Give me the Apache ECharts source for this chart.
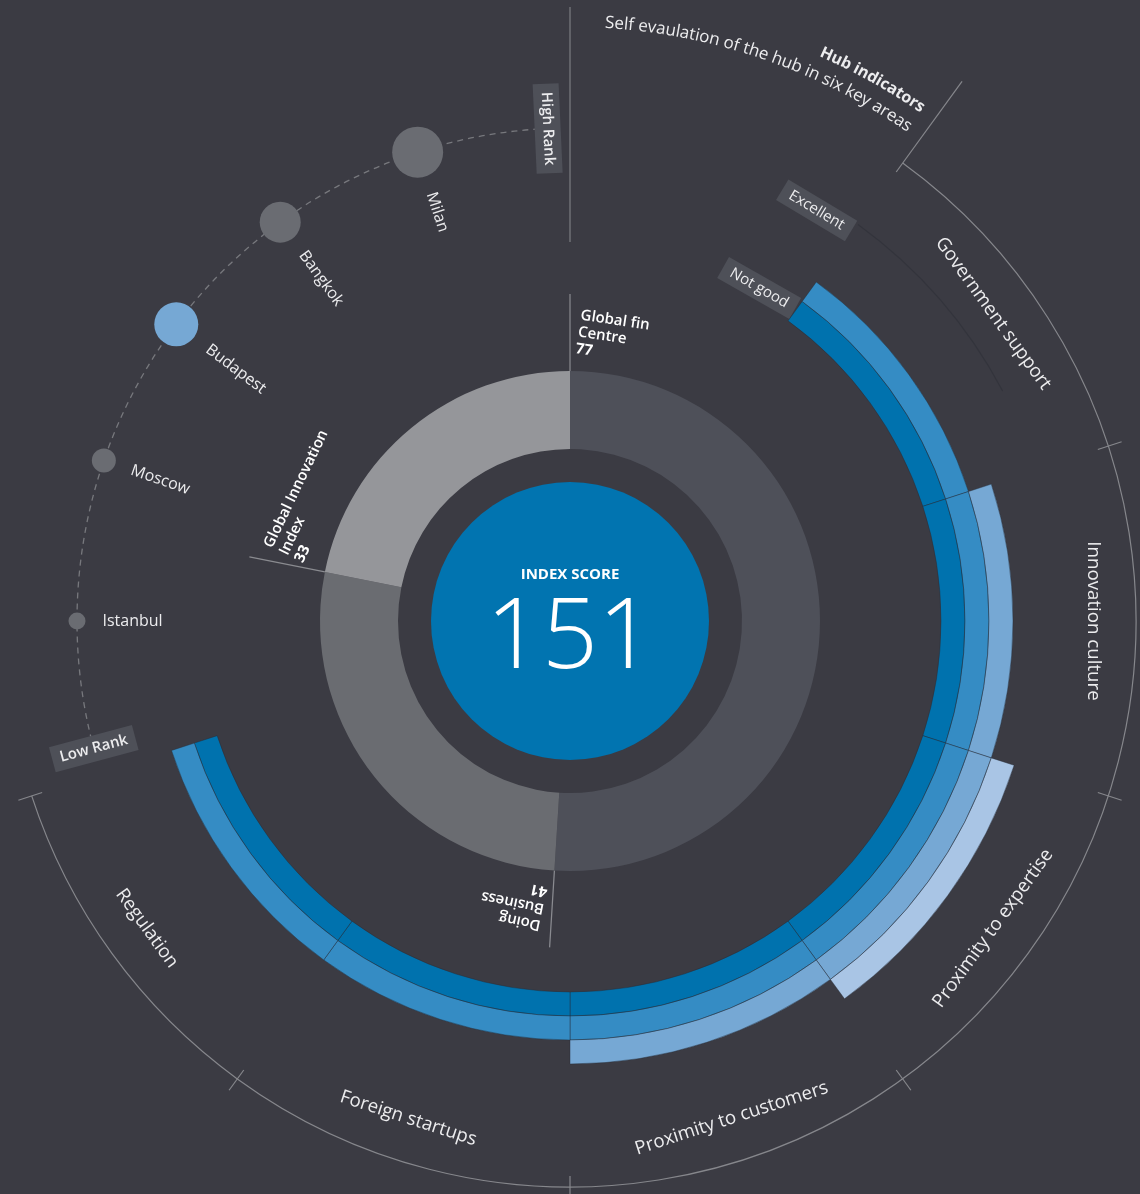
<!DOCTYPE html>
<html>
<head>
<meta charset="utf-8">
<title>Hub index</title>
<script src="https://cdn.jsdelivr.net/npm/echarts/dist/echarts.min.js"></script>
<style>
  html, body { margin: 0; padding: 0; background: #3b3b43; }
  #chart { width: 1140px; height: 1194px; }
</style>
</head>
<body>
<div id="chart"></div>
<script>
// inner donut: parts of the index score
const indexParts = ['Global fin\nCentre', 'Doing\nBusiness', 'Global Innovation\nIndex'];
const indexValues = [77, 41, 33];

// hub indicators, self evaluation from 1 (not good) to 5 (excellent)
const hubAreas = ['Government support', 'Innovation culture', 'Proximity to expertise',
  'Proximity to customers', 'Foreign startups', 'Regulation'];
const hubScores = [2, 3, 4, 3, 2, 2];
const hubScale = ['Not good', '', '', '', 'Excellent'];

// rank comparison (0 = low rank, 100 = high rank)
const cities = ['Istanbul', 'Moscow', 'Budapest', 'Bangkok', 'Milan'];
const cityRank = [14, 33, 51, 68, 86];
const cityWeight = [17, 24, 44, 41, 51];
const hubCity = 'Budapest';

const chart = echarts.init(document.getElementById('chart'));
const cx = 570, cy = 621;
const FONT = '"Open Sans", "Noto Sans", sans-serif';
const txt = '#ececee';
const tagColor = '#4e5058';
const donutColors = ['#4e5059', '#6a6c71', '#95969a'];
const levelColors = ['#0072ae', '#358cc4', '#76a8d4', '#a9c5e5', '#cfe0f2'];

const hubStart = 36, hubStep = 36;   // degrees, clockwise from 12 o'clock
const rankStart = 256;               // where "low rank" sits on the dashed arc
const rankR = 493;
const barInner = 371, barBand = 24;

const rad = d => d * Math.PI / 180;
const pt = (r, deg) => [cx + r * Math.sin(rad(deg)), cy - r * Math.cos(rad(deg))];
const ctx = document.createElement('canvas').getContext('2d');
const textW = (s, font) => { ctx.font = font; return ctx.measureText(s).width; };

const slots = [];
for (let i = 0; i < 360 / hubStep; i++) slots.push(hubAreas[i] || 'empty' + i);

// ---------- graphic decorations ----------
const g = [];

// separator line at 12 o'clock
g.push({ type: 'line', shape: { x1: cx, y1: cy - 379, x2: cx, y2: cy - 614 },
  style: { stroke: '#6f7075', lineWidth: 1.5 } });

// outer hub arc + ticks
const hubEnd = hubStart + hubStep * hubAreas.length;
g.push({ type: 'arc', shape: { cx, cy, r: 566, startAngle: rad(hubStart - 90), endAngle: rad(hubEnd - 90), clockwise: true },
  style: { stroke: '#86878c', lineWidth: 1.2, fill: 'none' } });
for (let k = 0; k <= hubAreas.length; k++) {
  const th = hubStart + k * hubStep;
  const a = pt(555, th), b = pt(k === 0 ? 667 : 580, th);
  g.push({ type: 'line', shape: { x1: a[0], y1: a[1], x2: b[0], y2: b[1] },
    style: { stroke: '#86878c', lineWidth: 1.2 } });
}
// faint guide for the top of the scale
g.push({ type: 'arc', shape: { cx, cy, r: barInner + barBand * 5 - 1, startAngle: rad(hubStart - 90), endAngle: rad(62 - 90), clockwise: true },
  style: { stroke: '#33343c', lineWidth: 1.2, fill: 'none' } });

// hub area labels
hubAreas.forEach((name, i) => {
  const th = hubStart + hubStep * (i + 0.5);
  const p = pt(523, th);
  const flip = th > 90 && th < 270;
  g.push({ type: 'text', x: p[0], y: p[1], rotation: -rad(flip ? th - 180 : th),
    style: { text: name, fill: txt, font: '18.7px ' + FONT, align: 'center', verticalAlign: 'middle' } });
});

// scale tags (not good / excellent)
hubScale.forEach((lvl, k) => {
  if (!lvl) return;
  const font = '15px ' + FONT;
  const w = textW(lvl, font) + 18, h = barBand;
  const r = barInner + barBand * (k + 0.5);
  const th = hubStart - 0.2 - (w / 2 / r) * 180 / Math.PI;
  g.push({ type: 'group', x: cx, y: cy, rotation: -rad(th), children: [
    { type: 'rect', shape: { x: -w / 2, y: -r - h / 2, width: w, height: h }, style: { fill: tagColor } },
    { type: 'text', x: 0, y: -r, style: { text: lvl, fill: txt, font, align: 'center', verticalAlign: 'middle' } }
  ] });
});

// text set on an arc, right aligned at endDeg
function arcText(str, r, endDeg, font) {
  const total = textW(str, font);
  let s = 0;
  for (const ch of str) {
    const w = textW(ch, font);
    const a = rad(endDeg) - (total - s - w / 2) / r;
    g.push({ type: 'text', x: cx + r * Math.sin(a), y: cy - r * Math.cos(a), rotation: -a,
      style: { text: ch, fill: txt, font, align: 'center', verticalAlign: 'middle' } });
    s += w;
  }
}
arcText('Hub indicators', 622, 34.6, 'bold 16px ' + FONT);
arcText('Self evaulation of the hub in six key areas', 599, 34.6, '17px ' + FONT);

// donut part labels
const total = indexValues.reduce((a, b) => a + b, 0);
let acc = 0;
indexParts.forEach((name, i) => {
  const th = acc / total * 360;
  acc += indexValues[i];
  const lines = name.split('\n');
  const w = Math.max(...lines.map(l => textW(l, '600 15px ' + FONT)));
  const rMid = 287;
  const d = (8 + w / 2) / rMid;
  g.push({ type: 'group', x: cx, y: cy, rotation: -rad(th), children: [
    { type: 'line', shape: { x1: 0, y1: -250, x2: 0, y2: -327 }, style: { stroke: '#8a8b90', lineWidth: 1.2 } },
    { type: 'group', x: rMid * Math.sin(d), y: -rMid * Math.cos(d), rotation: -d, children: [
      { type: 'text', x: -w / 2, y: 0, style: {
        text: lines.map(l => '{n|' + l + '}').join('\n') + '\n{b|' + indexValues[i] + '}',
        align: 'left', verticalAlign: 'middle',
        rich: {
          n: { fill: '#ffffff', fontSize: 15, fontFamily: FONT, fontWeight: 600, lineHeight: 17 },
          b: { fill: '#ffffff', fontSize: 15, fontFamily: FONT, fontWeight: 'bold', lineHeight: 17 }
        } } }
    ] }
  ] });
});

// centre
g.push({ type: 'circle', shape: { cx, cy, r: 139 }, style: { fill: '#0174b0' } });
g.push({ type: 'text', x: cx, y: cy - 46, style: { text: 'INDEX SCORE', fill: '#ffffff', font: 'bold 15px ' + FONT, align: 'center', verticalAlign: 'middle' } });
g.push({ type: 'text', x: cx, y: cy + 19, style: { text: String(total), fill: '#ffffff', font: '300 98px ' + FONT, align: 'center', verticalAlign: 'middle' } });

// rank dashed arc and end tags
g.push({ type: 'arc', z: 0, shape: { cx, cy, r: rankR, startAngle: rad(rankStart - 90), endAngle: rad(rankStart + 100 - 90), clockwise: true },
  style: { stroke: '#77787d', lineWidth: 1.3, lineDash: [6, 5], fill: 'none' } });
[['Low Rank', -1], ['High Rank', 101.4]].forEach(([lbl, v]) => {
  const th = rankStart + v;
  const p = pt(rankR, th);
  const font = '600 15px ' + FONT;
  const w = textW(lbl, font) + 16, h = 26;
  g.push({ type: 'group', x: p[0], y: p[1], rotation: rad(270 - th), children: [
    { type: 'rect', shape: { x: -w / 2, y: -h / 2, width: w, height: h }, style: { fill: tagColor } },
    { type: 'text', x: 0, y: 0, style: { text: lbl, fill: txt, font, align: 'center', verticalAlign: 'middle' } }
  ] });
});

// ---------- series ----------
const barSeries = hubScale.map((lvl, k) => ({
  type: 'bar', coordinateSystem: 'polar', polarIndex: 0, stack: 'hub',
  barCategoryGap: '0%', silent: true, z: 3,
  itemStyle: { color: levelColors[k], borderColor: 'rgba(36,44,56,0.55)', borderWidth: 0.8 },
  data: slots.map((s, i) => (hubScores[i] > k ? 1 : '-'))
}));

const option = {
  backgroundColor: '#3b3b43',
  animation: false,
  graphic: { elements: g },
  polar: [
    { center: [cx, cy], radius: [barInner, barInner + barBand * hubScale.length] },
    { center: [cx, cy], radius: [rankR - 10, rankR + 10] }
  ],
  angleAxis: [
    { polarIndex: 0, type: 'category', data: slots, startAngle: 90 - hubStart, clockwise: true, show: false },
    { polarIndex: 1, type: 'value', min: 0, max: 360, startAngle: ((90 - rankStart) % 360 + 360) % 360, clockwise: true, show: false }
  ],
  radiusAxis: [
    { polarIndex: 0, type: 'value', min: 0, max: hubScale.length, show: false },
    { polarIndex: 1, type: 'category', data: ['rank'], show: false }
  ],
  series: [
    {
      type: 'pie', center: [cx, cy], radius: [172, 250], startAngle: 90, clockwise: true,
      silent: true, label: { show: false }, labelLine: { show: false },
      itemStyle: { borderWidth: 0 },
      data: indexParts.map((n, i) => ({ name: n, value: indexValues[i], itemStyle: { color: donutColors[i] } }))
    },
    ...barSeries,
    {
      type: 'scatter', coordinateSystem: 'polar', polarIndex: 1, silent: true, z: 5,
      itemStyle: { opacity: 1 },
      label: { show: true, position: 'inside', align: 'left', verticalAlign: 'middle', formatter: '{b}',
        color: txt, opacity: 1, fontSize: 16, fontFamily: FONT },
      data: cities.map((c, i) => {
        const th = rankStart + cityRank[i];
        return {
          name: c, value: ['rank', cityRank[i]], symbolSize: cityWeight[i],
          itemStyle: { color: c === hubCity ? '#76a8d4' : '#6a6c72', opacity: 1 },
          label: { rotate: 270 - th, padding: [0, 0, 0, cityWeight[i] / 2 + 17] }
        };
      })
    }
  ]
};
chart.setOption(option);
</script>
</body>
</html>
